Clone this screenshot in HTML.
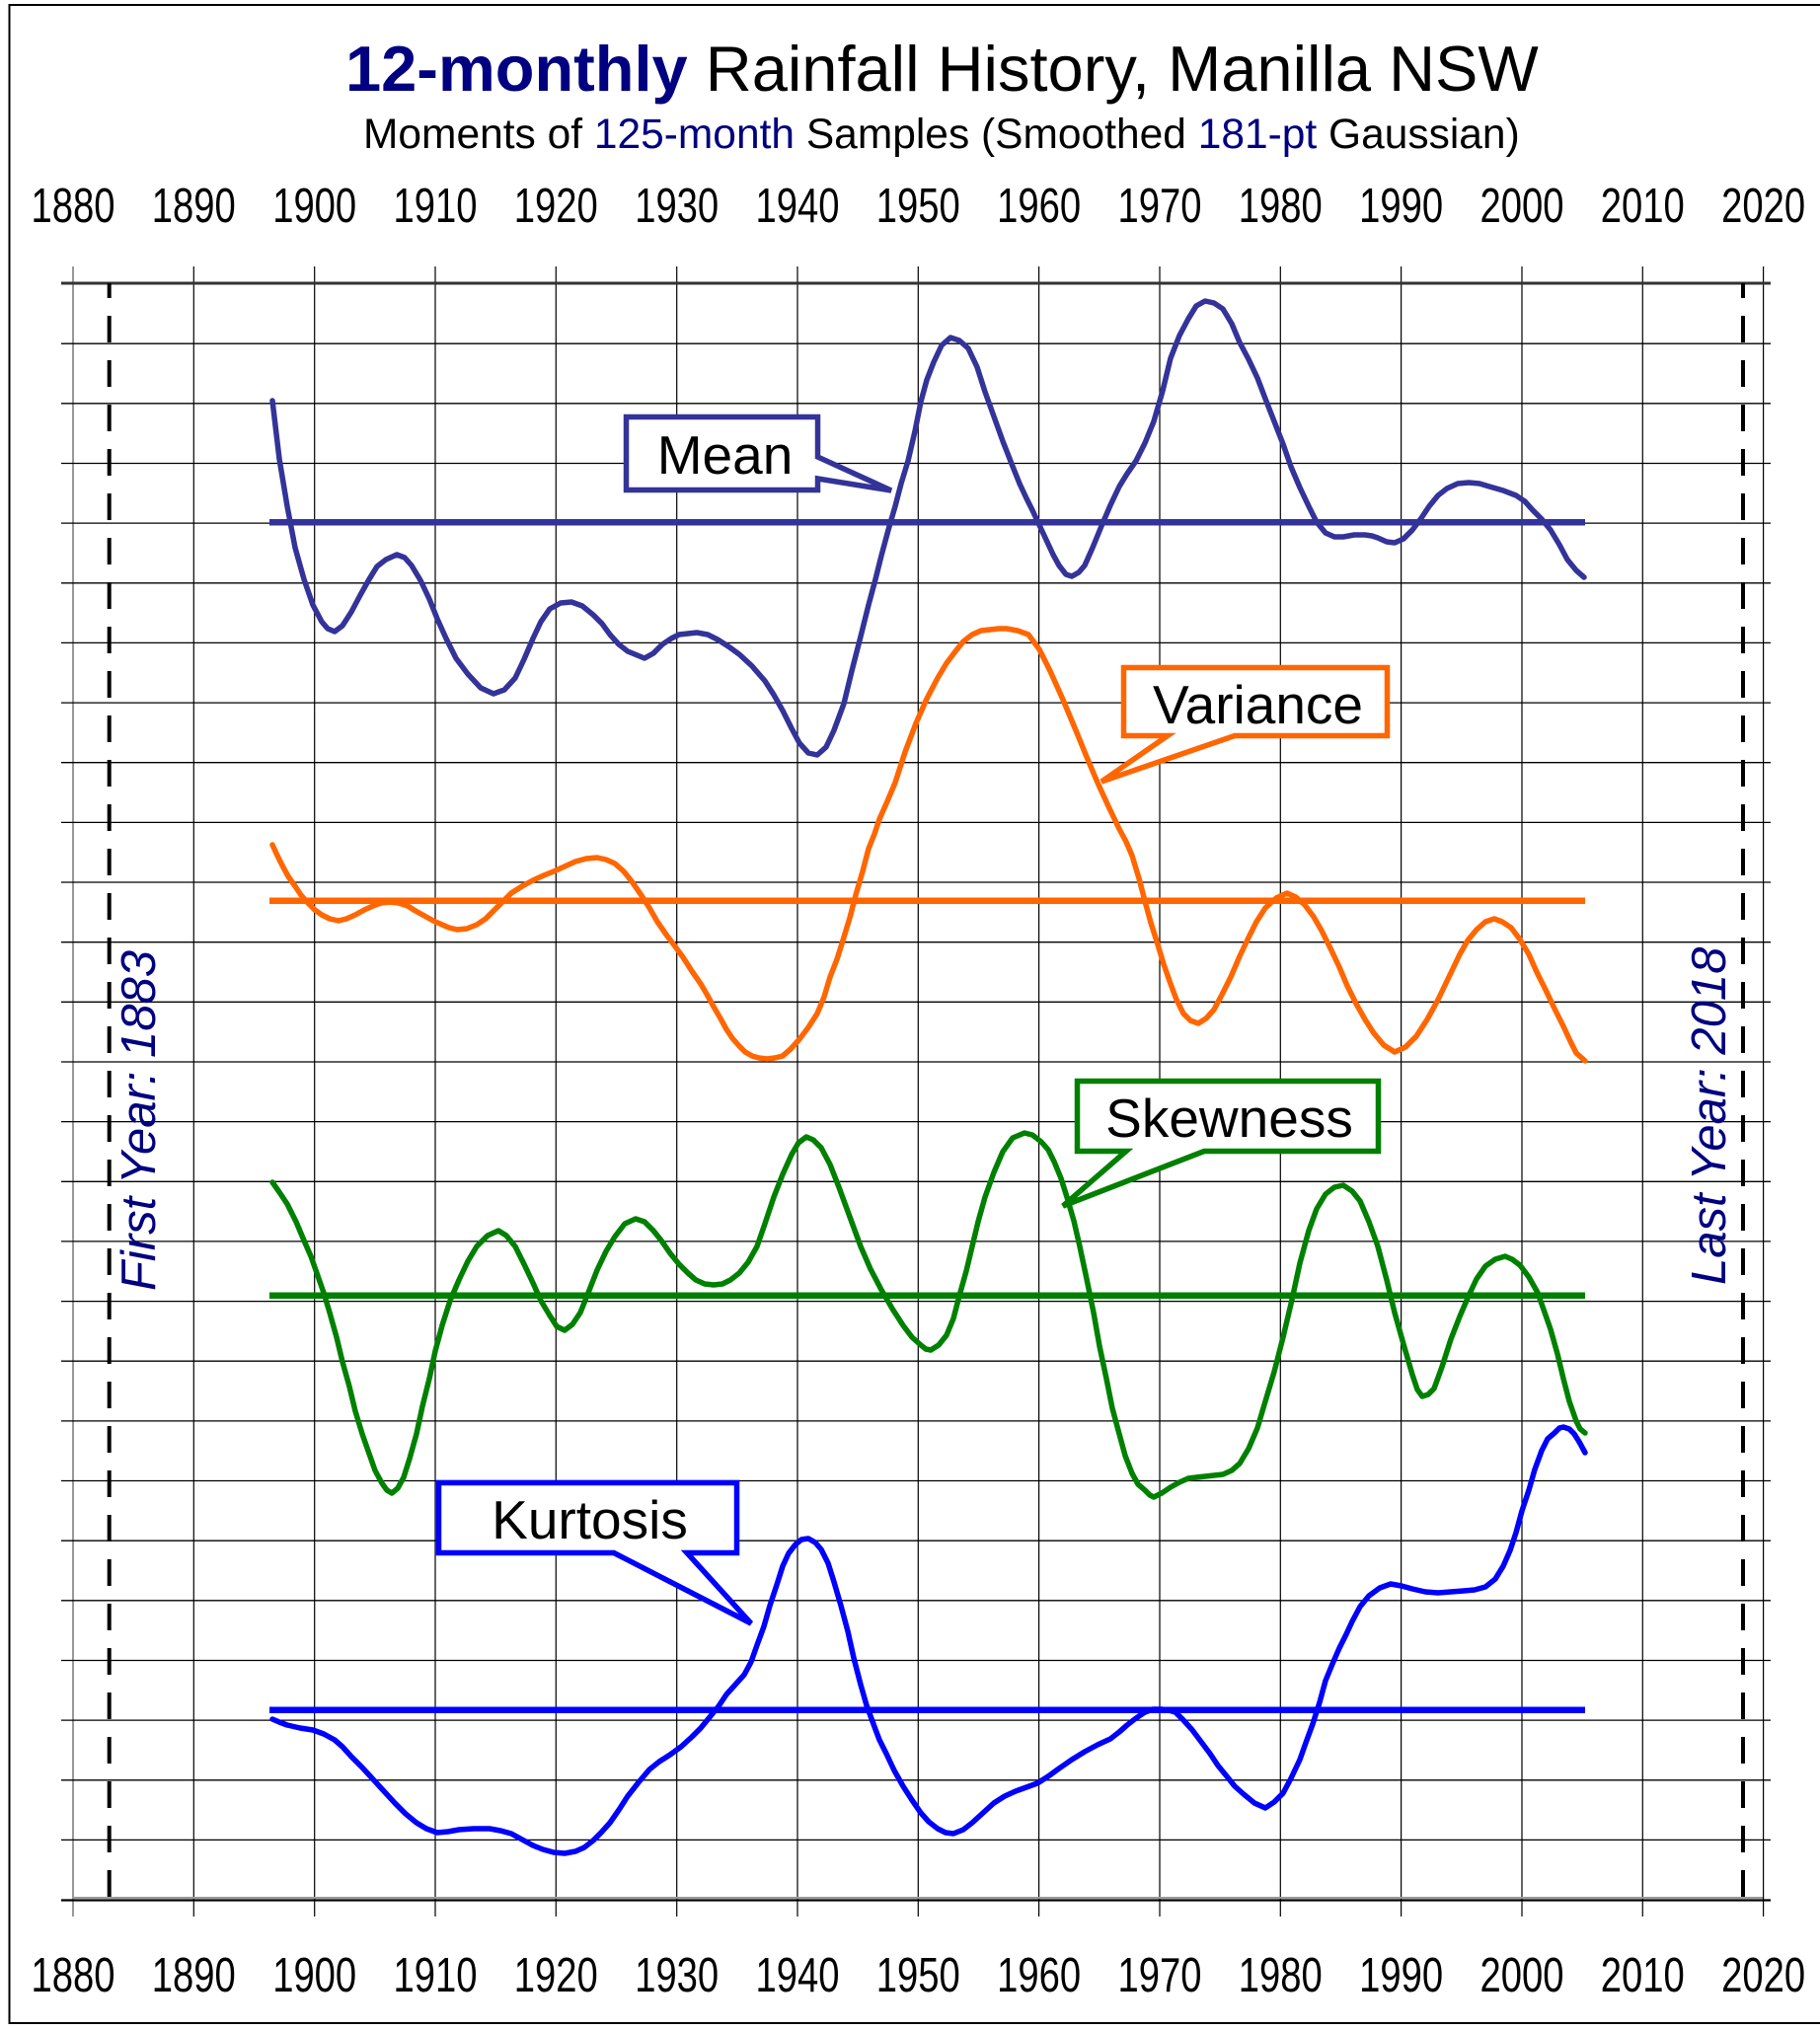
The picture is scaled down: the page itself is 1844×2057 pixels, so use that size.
<!DOCTYPE html>
<html><head><meta charset="utf-8"><style>
html,body{margin:0;padding:0;background:#fff;}
svg{display:block;}
text{font-family:"Liberation Sans",Arial,sans-serif;}
</style></head><body>
<svg width="1844" height="2057" viewBox="0 0 1844 2057" xmlns="http://www.w3.org/2000/svg">
<rect x="0" y="0" width="1844" height="2057" fill="#fff"/>
<!-- outer frame -->
<path d="M1844,5 H9.5 V2050 H1844" fill="none" stroke="#000" stroke-width="2"/>

<!-- titles -->
<text x="350" y="92" font-size="65"><tspan font-weight="bold" fill="#000080">12-monthly</tspan><tspan fill="#000"> Rainfall History, Manilla NSW</tspan></text>
<text x="368" y="150" font-size="42.5" fill="#000">Moments of <tspan fill="#000080">125-month</tspan> Samples (Smoothed <tspan fill="#000080">181-pt</tspan> Gaussian)</text>

<!-- year labels -->
<g font-size="49" fill="#000" text-anchor="middle">
<text x="74" y="225" textLength="85" lengthAdjust="spacingAndGlyphs">1880</text>
<text x="196.3" y="225" textLength="85" lengthAdjust="spacingAndGlyphs">1890</text>
<text x="318.7" y="225" textLength="85" lengthAdjust="spacingAndGlyphs">1900</text>
<text x="441" y="225" textLength="85" lengthAdjust="spacingAndGlyphs">1910</text>
<text x="563.3" y="225" textLength="85" lengthAdjust="spacingAndGlyphs">1920</text>
<text x="685.7" y="225" textLength="85" lengthAdjust="spacingAndGlyphs">1930</text>
<text x="808" y="225" textLength="85" lengthAdjust="spacingAndGlyphs">1940</text>
<text x="930.3" y="225" textLength="85" lengthAdjust="spacingAndGlyphs">1950</text>
<text x="1052.6" y="225" textLength="85" lengthAdjust="spacingAndGlyphs">1960</text>
<text x="1175" y="225" textLength="85" lengthAdjust="spacingAndGlyphs">1970</text>
<text x="1297.3" y="225" textLength="85" lengthAdjust="spacingAndGlyphs">1980</text>
<text x="1419.6" y="225" textLength="85" lengthAdjust="spacingAndGlyphs">1990</text>
<text x="1542" y="225" textLength="85" lengthAdjust="spacingAndGlyphs">2000</text>
<text x="1664.3" y="225" textLength="85" lengthAdjust="spacingAndGlyphs">2010</text>
<text x="1786.6" y="225" textLength="85" lengthAdjust="spacingAndGlyphs">2020</text>

<text x="74" y="2018" textLength="85" lengthAdjust="spacingAndGlyphs">1880</text>
<text x="196.3" y="2018" textLength="85" lengthAdjust="spacingAndGlyphs">1890</text>
<text x="318.7" y="2018" textLength="85" lengthAdjust="spacingAndGlyphs">1900</text>
<text x="441" y="2018" textLength="85" lengthAdjust="spacingAndGlyphs">1910</text>
<text x="563.3" y="2018" textLength="85" lengthAdjust="spacingAndGlyphs">1920</text>
<text x="685.7" y="2018" textLength="85" lengthAdjust="spacingAndGlyphs">1930</text>
<text x="808" y="2018" textLength="85" lengthAdjust="spacingAndGlyphs">1940</text>
<text x="930.3" y="2018" textLength="85" lengthAdjust="spacingAndGlyphs">1950</text>
<text x="1052.6" y="2018" textLength="85" lengthAdjust="spacingAndGlyphs">1960</text>
<text x="1175" y="2018" textLength="85" lengthAdjust="spacingAndGlyphs">1970</text>
<text x="1297.3" y="2018" textLength="85" lengthAdjust="spacingAndGlyphs">1980</text>
<text x="1419.6" y="2018" textLength="85" lengthAdjust="spacingAndGlyphs">1990</text>
<text x="1542" y="2018" textLength="85" lengthAdjust="spacingAndGlyphs">2000</text>
<text x="1664.3" y="2018" textLength="85" lengthAdjust="spacingAndGlyphs">2010</text>
<text x="1786.6" y="2018" textLength="85" lengthAdjust="spacingAndGlyphs">2020</text>
</g>

<!-- vertical grid -->
<g stroke="#000" stroke-width="1.2">
<line x1="74" y1="270" x2="74" y2="1942" stroke="#555"/>
<line x1="196.3" y1="270" x2="196.3" y2="1942"/>
<line x1="318.7" y1="270" x2="318.7" y2="1942"/>
<line x1="441" y1="270" x2="441" y2="1942"/>
<line x1="563.3" y1="270" x2="563.3" y2="1942"/>
<line x1="685.7" y1="270" x2="685.7" y2="1942"/>
<line x1="808" y1="270" x2="808" y2="1942"/>
<line x1="930.3" y1="270" x2="930.3" y2="1942"/>
<line x1="1052.6" y1="270" x2="1052.6" y2="1942"/>
<line x1="1175" y1="270" x2="1175" y2="1942"/>
<line x1="1297.3" y1="270" x2="1297.3" y2="1942"/>
<line x1="1419.6" y1="270" x2="1419.6" y2="1942"/>
<line x1="1542" y1="270" x2="1542" y2="1942"/>
<line x1="1664.3" y1="270" x2="1664.3" y2="1942"/>
<line x1="1786.6" y1="270" x2="1786.6" y2="1942"/>
</g>

<!-- horizontal grid -->
<g stroke="#000" stroke-width="1.3">
<line x1="62" y1="287" x2="1794" y2="287" stroke="#333" stroke-width="3"/>
<line x1="62" y1="348.2" x2="1794" y2="348.2"/>
<line x1="62" y1="408.8" x2="1794" y2="408.8"/>
<line x1="62" y1="469.5" x2="1794" y2="469.5"/>
<line x1="62" y1="530.1" x2="1794" y2="530.1"/>
<line x1="62" y1="590.8" x2="1794" y2="590.8"/>
<line x1="62" y1="651.4" x2="1794" y2="651.4"/>
<line x1="62" y1="712.1" x2="1794" y2="712.1"/>
<line x1="62" y1="772.7" x2="1794" y2="772.7"/>
<line x1="62" y1="833.4" x2="1794" y2="833.4"/>
<line x1="62" y1="894" x2="1794" y2="894"/>
<line x1="62" y1="954.7" x2="1794" y2="954.7"/>
<line x1="62" y1="1015.3" x2="1794" y2="1015.3"/>
<line x1="62" y1="1076" x2="1794" y2="1076"/>
<line x1="62" y1="1136.6" x2="1794" y2="1136.6"/>
<line x1="62" y1="1197.3" x2="1794" y2="1197.3"/>
<line x1="62" y1="1257.9" x2="1794" y2="1257.9"/>
<line x1="62" y1="1318.6" x2="1794" y2="1318.6"/>
<line x1="62" y1="1379.2" x2="1794" y2="1379.2"/>
<line x1="62" y1="1439.9" x2="1794" y2="1439.9"/>
<line x1="62" y1="1500.5" x2="1794" y2="1500.5"/>
<line x1="62" y1="1561.2" x2="1794" y2="1561.2"/>
<line x1="62" y1="1621.8" x2="1794" y2="1621.8"/>
<line x1="62" y1="1682.5" x2="1794" y2="1682.5"/>
<line x1="62" y1="1743.1" x2="1794" y2="1743.1"/>
<line x1="62" y1="1803.8" x2="1794" y2="1803.8"/>
<line x1="62" y1="1864.4" x2="1794" y2="1864.4"/>
<line x1="74" y1="1923" x2="1786" y2="1923" stroke="#999" stroke-width="2"/>
<line x1="62" y1="1925.5" x2="1794" y2="1925.5" stroke-width="2.2"/>
</g>

<!-- dashed first/last year lines -->
<g stroke="#000" stroke-width="4" stroke-dasharray="27 18" stroke-dashoffset="12">
<line x1="110.7" y1="287" x2="110.7" y2="1925"/>
<line x1="1766" y1="287" x2="1766" y2="1925"/>
</g>

<!-- rotated labels -->
<text transform="translate(157,1308) rotate(-90)" font-size="49" font-style="italic" fill="#000080">First Year: 1883</text>
<text transform="translate(1748,1302) rotate(-90)" font-size="49" font-style="italic" fill="#000080">Last Year: 2018</text>

<!-- moment average lines -->
<g stroke-width="6.5">
<line x1="273" y1="529.3" x2="1606" y2="529.3" stroke="#333399"/>
<line x1="273" y1="912.7" x2="1606" y2="912.7" stroke="#FF6600"/>
<line x1="273" y1="1312.7" x2="1606" y2="1312.7" stroke="#008000"/>
<line x1="273" y1="1732.7" x2="1606" y2="1732.7" stroke="#0000FF"/>
</g>

<!-- curves -->
<g fill="none" stroke-width="5.5" stroke-linejoin="round" stroke-linecap="round">
<polyline stroke="#333399" points="276,406 283,465 291,513 299,555 308,587 317,613 326,630 332,637 339,640 347,634 356,620 365,603 374,587 382,574 391,567 402,562 410,565 417,573 426,588 435,607 443,627 452,647 462,667 474,683 487,697 500,703 511,699 522,687 531,668 540,647 548,630 557,617 568,611 579,610 590,614 601,623 610,632 618,643 627,653 636,660 653,667 662,662 671,653 680,647 688,643 706,641 717,643 727,648 738,655 749,663 762,675 775,690 784,704 793,720 802,738 810,753 819,763 828,765 837,757 845,740 855,713 863,680 872,645 880,613 887,587 893,563 900,537 907,513 913,490 920,467 927,437 933,407 939,385 946,367 954,350 963,342 972,345 981,353 990,372 998,397 1007,422 1016,447 1025,470 1033,490 1040,505 1046,517 1053,532 1060,547 1067,562 1073,573 1080,582 1086,584 1093,580 1099,573 1107,555 1116,533 1125,512 1134,493 1142,480 1151,467 1160,449 1169,427 1178,396 1186,363 1195,340 1204,323 1212,310 1221,305 1230,307 1239,313 1248,328 1256,347 1265,364 1274,383 1282,404 1291,427 1300,450 1308,473 1317,494 1326,513 1334,529 1343,540 1352,544 1361,544 1372,542 1383,542 1390,543 1396,545 1405,549 1413,550 1422,546 1431,537 1440,525 1448,513 1457,502 1466,495 1477,490 1488,489 1499,490 1509,493 1523,497 1536,502 1545,508 1553,517 1562,526 1571,537 1580,552 1588,567 1597,578 1605,585"/>
<polyline stroke="#FF6600" points="276,856 281,867 286,877 292,888 299,898 305,907 312,915 319,922 326,927 334,931 343,933 351,931 360,927 369,922 378,918 386,915 395,914 404,915 413,918 421,923 430,928 439,933 448,937 455,940 463,942 473,941 483,937 492,931 500,923 509,914 518,905 529,898 540,892 551,887 561,883 572,878 583,873 594,870 605,869 614,871 623,875 632,883 640,893 649,906 658,920 666,934 675,947 684,959 692,970 701,984 710,997 717,1009 723,1020 730,1032 736,1043 742,1052 749,1060 755,1066 762,1070 769,1072 777,1073 785,1072 793,1070 801,1063 810,1053 819,1041 828,1027 835,1010 841,990 848,972 854,953 861,930 867,907 874,883 880,860 886,845 891,830 899,812 907,793 917,762 928,733 939,708 950,687 959,672 968,660 976,650 985,643 994,639 1003,638 1012,637 1020,637 1031,639 1042,643 1053,658 1064,680 1077,709 1090,740 1101,767 1112,793 1123,817 1134,840 1141,853 1147,867 1154,890 1160,913 1166,935 1173,957 1179,977 1186,997 1192,1013 1199,1027 1206,1034 1214,1037 1222,1032 1230,1023 1238,1008 1247,990 1256,969 1265,950 1273,934 1282,920 1293,910 1304,905 1313,909 1322,917 1331,929 1339,943 1348,961 1357,980 1365,999 1374,1017 1383,1033 1392,1047 1402,1059 1413,1066 1424,1061 1435,1050 1446,1033 1457,1013 1468,990 1479,967 1487,953 1496,942 1505,934 1514,931 1522,934 1531,940 1540,952 1549,967 1557,985 1566,1003 1575,1022 1584,1040 1591,1055 1597,1067 1606,1075"/>
<polyline stroke="#008000" points="276,1198 283,1208 291,1220 300,1238 308,1257 315,1273 321,1290 328,1310 334,1330 341,1355 347,1380 354,1405 360,1430 367,1453 374,1473 380,1490 387,1503 392,1510 397,1513 403,1508 409,1497 415,1478 422,1453 428,1425 435,1397 441,1369 448,1343 456,1318 465,1297 474,1278 483,1263 494,1252 505,1247 513,1252 522,1263 531,1281 540,1300 548,1318 557,1333 564,1344 572,1348 580,1342 588,1330 596,1310 605,1287 614,1268 623,1253 633,1240 644,1235 653,1238 662,1247 670,1257 679,1270 688,1281 697,1290 705,1297 714,1301 723,1302 732,1301 740,1297 749,1290 758,1279 767,1263 775,1240 784,1213 793,1190 802,1170 809,1158 817,1152 824,1155 832,1163 841,1180 850,1203 861,1233 872,1263 882,1286 893,1307 904,1326 915,1343 924,1355 933,1363 938,1367 943,1368 951,1363 959,1353 966,1336 972,1313 979,1288 985,1263 991,1238 998,1213 1007,1188 1016,1167 1026,1153 1038,1148 1046,1150 1055,1157 1062,1165 1068,1177 1075,1194 1081,1213 1088,1237 1094,1263 1101,1296 1108,1330 1114,1364 1121,1397 1127,1427 1134,1453 1140,1475 1147,1493 1153,1504 1160,1510 1165,1515 1169,1517 1177,1513 1186,1507 1195,1502 1204,1498 1212,1497 1221,1496 1230,1495 1239,1494 1248,1490 1256,1483 1265,1468 1274,1447 1282,1420 1291,1390 1300,1355 1309,1317 1317,1280 1326,1247 1334,1225 1343,1210 1352,1203 1361,1201 1370,1207 1378,1217 1387,1238 1396,1263 1405,1297 1413,1330 1422,1362 1431,1393 1436,1408 1441,1415 1447,1413 1453,1407 1461,1385 1470,1357 1479,1334 1488,1313 1496,1296 1505,1283 1515,1276 1525,1273 1532,1276 1540,1282 1549,1294 1558,1310 1564,1327 1571,1347 1578,1372 1584,1397 1590,1420 1597,1440 1601,1448 1606,1452"/>
<polyline stroke="#0000FF" points="276,1742 283,1745 291,1748 304,1751 317,1753 328,1757 339,1763 347,1770 356,1780 367,1791 378,1803 389,1815 400,1827 411,1838 422,1847 432,1853 443,1857 454,1856 465,1854 480,1853 496,1853 507,1855 518,1858 529,1864 540,1870 550,1874 561,1877 572,1878 583,1876 592,1872 601,1865 609,1857 618,1847 627,1834 636,1820 647,1806 658,1793 668,1785 679,1778 690,1770 701,1760 710,1751 719,1740 728,1729 736,1717 745,1707 754,1697 761,1684 767,1667 774,1648 780,1627 787,1606 793,1587 799,1574 806,1565 812,1560 819,1559 826,1563 832,1570 839,1584 845,1603 852,1627 859,1653 865,1680 872,1707 878,1728 885,1747 891,1763 898,1777 906,1794 915,1810 924,1824 933,1837 941,1846 950,1853 958,1857 966,1858 976,1854 985,1847 996,1837 1007,1827 1018,1820 1029,1815 1040,1811 1051,1807 1062,1800 1073,1792 1086,1783 1099,1775 1112,1768 1125,1762 1134,1755 1142,1748 1151,1741 1160,1735 1168,1732 1177,1732 1184,1733 1191,1735 1199,1743 1208,1753 1217,1765 1226,1777 1234,1789 1243,1800 1251,1810 1260,1818 1271,1827 1282,1832 1291,1826 1300,1817 1308,1802 1317,1783 1323,1766 1330,1747 1337,1725 1343,1703 1350,1686 1357,1670 1364,1656 1370,1643 1378,1628 1387,1617 1398,1609 1409,1605 1420,1607 1431,1610 1444,1613 1457,1614 1470,1613 1483,1612 1494,1611 1505,1608 1515,1600 1523,1587 1530,1571 1536,1553 1542,1531 1549,1510 1555,1489 1562,1470 1568,1458 1575,1452 1580,1447 1584,1446 1590,1448 1595,1453 1600,1461 1606,1472"/>
</g>

<!-- callouts -->
<g fill="#fff" stroke-width="5.5" stroke-linejoin="miter">
<path d="M634.5,422.5 H828.5 V463 L903,497 L828.5,485 V496.5 H634.5 Z" stroke="#333399"/>
<path d="M1138.5,676.5 H1405.5 V745.5 H1251 L1116,792 L1183,745.5 H1138.5 Z" stroke="#FF6600"/>
<path d="M1091.5,1095.5 H1396.5 V1166.5 H1220 L1077,1222 L1141,1166.5 H1091.5 Z" stroke="#008000"/>
<path d="M444.5,1502.5 H746.5 V1573.5 H696 L761,1645 L622,1573.5 H444.5 Z" stroke="#0000FF"/>
</g>
<g font-size="55" fill="#000" text-anchor="middle">
<text x="734.5" y="480">Mean</text>
<text x="1274.5" y="733">Variance</text>
<text x="1245.5" y="1152">Skewness</text>
<text x="597.5" y="1559">Kurtosis</text>
</g>
</svg>
</body></html>
